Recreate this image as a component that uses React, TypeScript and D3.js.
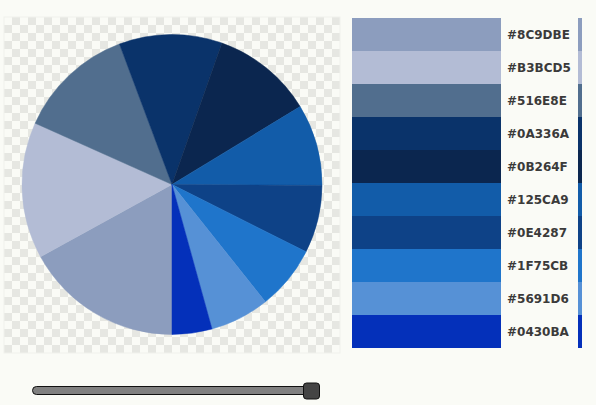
import React, { useEffect, useRef } from "react";
import * as d3 from "d3";

// slice shares, in drawing order (clockwise from 6 o'clock)
const colors = ["#8C9DBE", "#B3BCD5", "#516E8E", "#0A336A", "#0B264F", "#125CA9", "#0E4287", "#1F75CB", "#5691D6", "#0430BA"];
const values = [17.0, 14.7, 12.6, 11.1, 10.9, 8.8, 7.3, 6.9, 6.4, 4.3];
const sliderMin = 0;
const sliderMax = 100;
const sliderValue = 100;

const App = () => {
  const ref = useRef<SVGSVGElement>(null);

  useEffect(() => {
    const width = 596;
    const height = 405;
    const svg = d3.select(ref.current);
    svg.selectAll("*").remove();
    svg.attr("width", width).attr("height", height);

    // page background
    svg.append("rect").attr("width", width).attr("height", height).attr("fill", "#FAFBF6");

    // checkerboard behind the pie
    const defs = svg.append("defs");
    const pat = defs.append("pattern")
      .attr("id", "checker")
      .attr("patternUnits", "userSpaceOnUse")
      .attr("x", 4).attr("y", 17)
      .attr("width", 16).attr("height", 16);
    pat.append("rect").attr("width", 16).attr("height", 16).attr("fill", "#FAFBF6");
    pat.append("rect").attr("x", 8).attr("y", 0).attr("width", 8).attr("height", 8).attr("fill", "#E6E7E2");
    pat.append("rect").attr("x", 0).attr("y", 8).attr("width", 8).attr("height", 8).attr("fill", "#E6E7E2");

    const box = { x: 4, y: 17, size: 336 };
    svg.append("rect")
      .attr("x", box.x).attr("y", box.y)
      .attr("width", box.size).attr("height", box.size)
      .attr("fill", "url(#checker)")
      .attr("stroke", "#F0F1EC").attr("stroke-width", 1);

    // pie
    const radius = 150;
    const g = svg.append("g")
      .attr("transform", `translate(${box.x + box.size / 2}, ${box.y + box.size / 2 - 0.5})`);

    const pie = d3.pie<number>().value(d => d).sort(null)
      .startAngle(Math.PI).endAngle(3 * Math.PI);
    const arc = d3.arc<d3.PieArcDatum<number>>().innerRadius(0).outerRadius(radius);

    g.selectAll("path")
      .data(pie(values))
      .enter()
      .append("path")
      .attr("d", arc)
      .attr("fill", (_d, i) => colors[i])
      .attr("stroke", (_d, i) => colors[i])
      .attr("stroke-width", 0.5);

    // legend: colour bar, hex label, thin colour strip on the right
    const y = d3.scaleBand<string>().domain(colors).range([18, 348]).padding(0);
    const leg = svg.append("g");
    const rows = leg.selectAll("g").data(colors).enter().append("g")
      .attr("transform", d => `translate(0, ${y(d)})`);
    rows.append("rect")
      .attr("x", 352).attr("width", 149).attr("height", y.bandwidth())
      .attr("fill", d => d);
    rows.append("rect")
      .attr("x", 578).attr("width", 4).attr("height", y.bandwidth())
      .attr("fill", d => d);
    rows.append("text")
      .attr("x", 507).attr("y", y.bandwidth() / 2)
      .attr("dy", "0.36em")
      .style("font-family", "'DejaVu Sans', Verdana, sans-serif")
      .style("font-weight", "bold")
      .style("font-size", "12px")
      .attr("fill", "#3a3a3a")
      .text(d => d);

    // slider at the bottom
    const sx = d3.scaleLinear().domain([sliderMin, sliderMax]).range([40, 311]);
    svg.append("rect")
      .attr("x", 32.5).attr("y", 386.5)
      .attr("width", 285).attr("height", 8)
      .attr("rx", 4)
      .attr("fill", "#808080").attr("stroke", "#111").attr("stroke-width", 1);
    svg.append("rect")
      .attr("x", sx(sliderValue) - 7.5).attr("y", 383)
      .attr("width", 16).attr("height", 16)
      .attr("rx", 3)
      .attr("fill", "#444444").attr("stroke", "#111").attr("stroke-width", 1);
  }, []);

  return <svg ref={ref} style={{ position: "absolute", left: 0, top: 0, display: "block" }}></svg>;
};

export default App;
